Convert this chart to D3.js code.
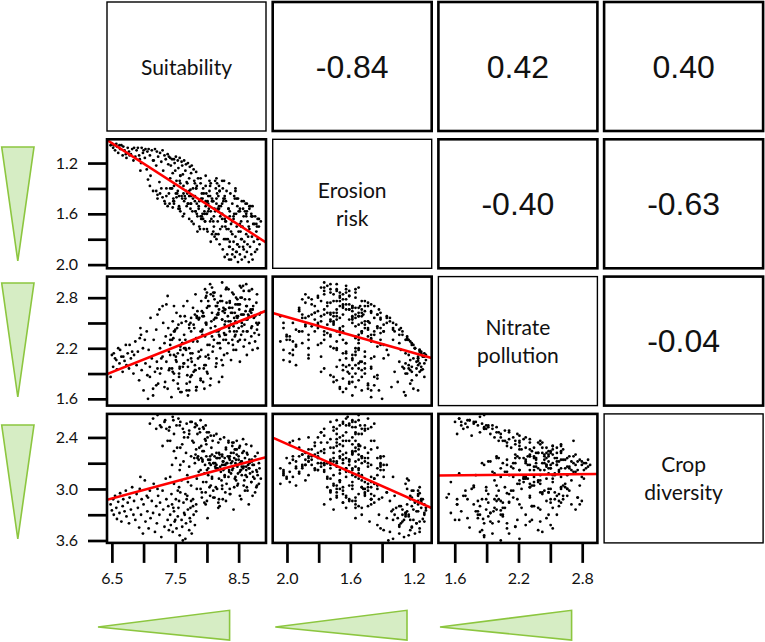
<!DOCTYPE html>
<html>
<head>
<meta charset="utf-8">
<script src="https://cdn.jsdelivr.net/npm/d3@7"></script>
<style>
  html, body { margin: 0; padding: 0; background: #fff; }
  svg { display: block; }
</style>
</head>
<body>
<script>
// each cell: [suitability, erosion risk, nitrate pollution, crop diversity]
const diagonalLabels = [['Suitability'], ['Erosion', 'risk'], ['Nitrate', 'pollution'], ['Crop', 'diversity']];
// upper panels, row by row: (1,2) (1,3) (1,4) (2,3) (2,4) (3,4)
const correlations = [-0.84, 0.42, 0.40, -0.40, -0.63, -0.04];

const ticks = [[6.5, 7, 7.5, 8, 8.5], [1.2, 1.4, 1.6, 1.8, 2.0], [1.6, 1.9, 2.2, 2.5, 2.8], [2.4, 2.7, 3.0, 3.3, 3.6]];
const tickLabels = [[6.5, 7.5, 8.5], [1.2, 1.6, 2.0], [1.6, 2.2, 2.8], [2.4, 3.0, 3.6]];

const lowSuitabilityCells = [
  [6.48,1.06,1.86,3.18],[6.50,1.05,2.12,3.25],[6.52,1.08,1.98,3.12],[6.53,1.06,2.14,3.30],[6.55,1.10,2.08,3.08],
  [6.57,1.05,2.06,3.22],[6.58,1.07,1.95,3.35],[6.60,1.12,2.20,3.15],[6.62,1.06,2.02,3.28],[6.63,1.09,2.18,3.05],
  [6.65,1.06,2.10,3.38],[6.67,1.14,1.92,3.20],[6.68,1.07,2.10,3.12],[6.70,1.10,2.05,3.26],[6.72,1.13,2.24,3.02],
  [6.73,1.16,2.00,3.32],[6.75,1.08,2.14,3.16],[6.77,1.11,1.96,3.40],[6.78,1.14,2.24,3.10],[6.80,1.13,2.08,3.24],
  [6.82,1.09,2.16,2.98],[6.84,1.18,1.90,3.30],[6.85,1.08,2.12,3.14],[6.87,1.15,2.28,3.36],[6.89,1.10,2.00,3.06],
  [6.91,1.08,2.16,3.22],[6.93,1.14,1.82,3.45],[6.94,1.17,2.32,3.00],[6.96,1.20,2.36,3.30],[6.97,1.08,1.94,3.12],
  [6.99,1.12,2.20,3.52],[7.00,1.10,1.70,3.18],[7.02,1.16,2.30,2.90],[7.03,1.09,2.02,3.38],[7.05,1.25,2.40,3.08],
  [7.06,1.11,1.88,3.26],[7.08,1.09,2.18,3.46],[7.10,1.14,1.98,3.02],[7.11,1.30,2.56,3.34],[7.13,1.10,2.08,3.14],
  [7.15,1.18,1.64,3.28],[7.16,1.18,2.30,2.94],[7.18,1.09,1.92,3.50],[7.20,1.22,2.42,3.20],[7.21,1.11,2.04,3.40],
  [7.23,1.15,1.78,3.08],[7.25,1.35,2.66,3.30],[7.26,1.12,2.20,3.16],[7.28,1.19,1.96,3.56],[7.30,1.10,2.10,3.02],
  [7.31,1.26,2.50,3.24],[7.33,1.14,2.26,3.44],[7.35,1.17,2.34,2.88],[7.36,1.40,2.72,3.12],[7.38,1.13,1.72,3.36],
  [7.39,1.21,2.44,3.20],[7.40,1.15,1.94,3.48],[6.95,1.26,2.44,2.86],[7.07,1.33,1.60,3.10],[7.22,1.45,2.60,3.00],
  [7.42,1.16,2.12,3.30],[7.43,1.22,2.36,3.42],[7.45,1.17,2.30,3.18],[7.46,1.28,2.52,3.50],[7.48,1.17,1.90,3.26],
  [7.49,1.20,2.40,3.38],[7.51,1.15,2.06,3.12],[7.52,1.34,2.62,3.46],[7.54,1.18,2.14,3.32],[7.55,1.24,2.48,3.22],
  [7.57,1.16,1.96,3.54],[7.58,1.30,2.58,3.04],[7.60,1.19,1.68,3.36],[7.61,1.22,2.26,3.44],[7.63,1.38,2.70,3.16],
  [7.64,1.18,2.02,3.28],[7.66,1.26,2.30,3.58],[7.67,1.21,2.18,3.40],[7.69,1.44,2.76,3.08],[7.70,1.20,1.98,3.24],
  [7.72,1.32,2.48,3.48],[7.73,1.23,1.80,3.34],[7.75,1.28,2.56,3.14],[7.76,1.22,2.04,3.52],[7.78,1.48,2.68,3.20],
  [7.79,1.25,1.92,3.30],[7.81,1.36,2.60,3.42],[7.83,1.27,1.74,3.26],[7.84,1.52,2.58,3.00],[7.44,1.40,1.62,3.06],
  [7.50,1.26,2.42,3.36],[7.56,1.46,1.86,2.98],[7.62,1.29,2.12,3.60],[7.68,1.35,1.70,3.12],[7.74,1.41,2.50,3.38]
];

const lowNitrateLowCropCells = [
  [7.10,1.38,1.86,2.24],[7.15,1.42,1.72,2.18],[7.22,1.48,1.96,2.14],[7.28,1.40,2.08,2.28],[7.34,1.52,1.80,2.20],
  [7.40,1.44,2.16,2.32],[7.46,1.55,1.92,2.16],[7.52,1.47,2.04,2.26],[7.58,1.58,1.68,2.22],[7.64,1.50,2.20,2.34],
  [7.30,1.47,2.70,2.50],[7.38,1.54,2.82,2.44],[7.48,1.52,2.70,2.56],[7.74,1.52,1.86,2.22],[7.82,1.58,1.94,2.24],
  [7.90,1.62,1.82,2.20],[7.98,1.54,2.00,2.26],[7.20,1.42,1.76,2.30],[7.26,1.44,1.90,2.26],[7.33,1.50,1.74,2.22],
  [7.41,1.52,1.96,2.28],[7.47,1.48,1.82,2.20],[7.55,1.56,1.72,2.18],[7.62,1.62,1.98,2.30],[7.68,1.54,1.78,2.24],
  [7.76,1.66,1.88,2.22],[7.84,1.60,1.74,2.26],[7.88,1.70,1.96,2.30],[7.94,1.64,1.80,2.28],[8.00,1.72,1.92,2.34],
  [8.06,1.58,1.84,2.38],[7.72,1.46,1.70,2.36]
];

const lowCropCells = [
  [7.36,1.46,2.04,2.30],[7.42,1.40,2.30,2.44],[7.48,1.50,2.12,2.36],[7.53,1.44,2.44,2.52],[7.57,1.56,1.98,2.26],
  [7.61,1.48,2.26,2.48],[7.64,1.60,2.36,2.40],[7.67,1.42,2.52,2.58],[7.70,1.52,2.06,2.40],[7.72,1.64,2.20,2.32],
  [7.75,1.46,2.40,2.62],[7.77,1.58,2.14,2.44],[7.79,1.68,2.48,2.46],[7.81,1.50,2.00,2.28],[7.83,1.40,2.32,2.54],
  [7.85,1.62,2.28,2.36],[7.87,1.54,2.54,2.66],[7.89,1.72,2.10,2.34],[7.91,1.48,2.18,2.50],[7.93,1.60,2.42,2.56],
  [7.95,1.44,1.96,2.30],[7.97,1.66,2.34,2.42],[7.99,1.52,2.50,2.48],[8.01,1.74,2.24,2.40],[8.03,1.56,2.08,2.34],
  [8.05,1.46,2.38,2.62],[8.07,1.64,2.52,2.52],[8.09,1.50,2.16,2.44],[8.11,1.70,2.30,2.38],[8.13,1.58,2.46,2.70],
  [8.15,1.48,2.02,2.36],[8.18,1.76,2.40,2.46],[8.21,1.62,2.20,2.42],[8.24,1.52,2.54,2.60],[8.27,1.80,2.12,2.40],
  [8.30,1.66,2.36,2.52],[8.34,1.56,2.26,2.44],[8.38,1.74,2.48,2.58],[8.42,1.62,2.18,2.46],[8.47,1.70,2.40,2.54],
  [8.52,1.58,2.30,2.50],[7.58,1.36,2.22,2.52],[7.80,1.34,2.44,2.64],[7.98,1.38,2.10,2.44],[8.20,1.42,2.34,2.64]
];

const highNitrateCells = [
  [7.82,1.58,2.84,2.60],[8.44,1.48,2.62,2.54],[8.05,1.66,2.96,2.66],[8.63,1.52,2.70,2.58],[7.95,1.72,2.58,2.56],
  [8.28,1.46,2.66,2.64],[8.71,1.62,2.90,2.68],[8.12,1.78,2.78,2.62],[7.88,1.50,2.56,2.52],[8.52,1.68,2.94,2.70],
  [8.19,1.56,2.66,2.58],[8.36,1.82,2.74,2.66],[7.99,1.60,2.82,2.62],[8.58,1.50,2.60,2.56],[8.24,1.70,2.98,2.72],
  [8.67,1.54,2.88,2.66],[8.08,1.76,2.62,2.60],[7.91,1.64,2.76,2.64],[8.47,1.48,2.58,2.60],[8.31,1.72,2.92,2.70],
  [8.02,1.58,2.70,2.66],[8.55,1.80,2.80,2.68],[8.15,1.52,2.56,2.58],[8.40,1.66,2.86,2.68],[7.85,1.74,2.64,2.64],
  [8.62,1.62,2.96,2.74],[8.26,1.50,2.68,2.68],[8.10,1.74,2.82,2.70],[8.50,1.58,2.72,2.66],[8.33,1.80,2.58,2.62],
  [7.97,1.66,2.90,2.72],[8.69,1.54,2.66,2.68],[8.21,1.72,2.76,2.74],[8.43,1.60,2.56,2.64],[8.06,1.82,2.84,2.72],
  [8.38,1.68,2.62,2.70],[8.57,1.56,2.94,2.76],[8.14,1.76,2.70,2.76],[7.93,1.64,2.58,2.68],[8.48,1.84,2.78,2.74],
  [8.29,1.70,2.66,2.72],[8.00,1.60,2.86,2.78],[8.65,1.78,2.60,2.72],[8.17,1.66,2.74,2.76],[8.35,1.86,2.68,2.80],
  [8.53,1.74,2.80,2.78]
];

const highErosionCells = [
  [8.30,1.80,2.30,2.54],[8.32,1.92,2.14,2.70],[8.34,1.72,2.52,2.46],[8.36,1.86,2.40,2.62],[8.38,1.96,2.06,2.82],
  [8.40,1.76,2.62,2.50],[8.41,1.88,2.24,2.76],[8.42,1.82,2.46,2.58],[8.44,1.94,2.34,2.88],[8.45,1.78,2.72,2.54],
  [8.46,1.90,2.18,2.66],[8.48,1.84,2.56,2.72],[8.49,1.98,2.28,2.94],[8.50,1.74,2.44,2.62],[8.51,1.86,2.66,2.52],
  [8.52,1.92,2.04,2.80],[8.54,1.80,2.36,2.68],[8.55,1.96,2.50,2.84],[8.56,1.70,2.60,2.58],[8.58,1.88,2.22,2.74],
  [8.59,1.82,2.48,2.90],[8.60,1.94,2.30,2.64],[8.62,1.76,2.54,2.78],[8.63,1.90,2.12,2.86],[8.64,1.84,2.40,2.60],
  [8.66,1.98,2.58,2.76],[8.67,1.72,2.26,2.70],[8.68,1.86,2.64,2.82],[8.70,1.92,2.34,2.92],[8.71,1.78,2.46,2.66],
  [8.72,1.96,2.18,2.80],[8.74,1.82,2.56,2.72],[8.75,1.68,2.38,2.88],[8.76,1.90,2.28,2.62],[8.78,1.74,2.50,2.78],
  [8.79,1.88,2.42,2.96],[8.80,1.80,2.20,2.84],[8.82,1.70,2.36,2.70],[8.83,1.84,2.60,2.76],[8.25,1.88,2.00,2.68],
  [8.20,1.84,2.26,2.60],[8.15,1.80,2.08,2.64],[8.35,1.96,2.44,2.78],[8.28,1.94,2.36,2.86],[8.62,1.60,2.70,2.48],
  [8.70,1.62,2.62,2.50],[8.80,1.64,2.48,2.58],[8.47,1.90,2.50,2.44],[8.57,1.86,2.40,2.42],[8.40,1.92,2.30,2.46]
];

const middleCells = [
  [7.42,1.32,2.24,2.86],[7.45,1.40,1.96,2.72],[7.48,1.38,2.40,2.94],[7.51,1.44,2.10,2.64],[7.54,1.42,1.78,3.02],
  [7.57,1.34,2.30,2.78],[7.60,1.46,2.50,2.90],[7.63,1.44,2.02,2.68],[7.66,1.48,2.20,3.06],[7.69,1.36,1.88,2.84],
  [7.72,1.42,2.44,2.74],[7.75,1.52,2.08,2.96],[7.78,1.40,2.28,3.12],[7.81,1.46,1.94,2.70],[7.84,1.38,2.56,2.88],
  [7.87,1.56,2.16,2.80],[7.90,1.36,1.84,3.00],[7.93,1.48,2.36,2.66],[7.96,1.58,2.00,3.16],[7.99,1.44,2.48,2.92],
  [8.02,1.52,2.12,2.76],[8.05,1.38,1.76,3.08],[8.08,1.50,2.34,2.86],[8.11,1.62,2.54,2.70],[8.14,1.40,1.98,2.98],
  [8.17,1.56,2.26,2.64],[8.20,1.42,2.42,3.20],[8.23,1.60,2.06,2.90],[8.26,1.48,2.30,2.78],[8.29,1.66,2.52,3.04],
  [7.47,1.50,2.32,3.22],[7.56,1.54,1.90,3.14],[7.65,1.46,2.58,3.30],[7.74,1.56,2.14,3.22],[7.83,1.40,1.70,3.18],
  [7.92,1.62,2.40,3.10],[8.01,1.50,1.90,3.34],[8.10,1.66,2.22,3.02],[8.19,1.54,1.80,3.12],[8.28,1.64,2.62,2.84],
  [7.58,1.30,2.18,2.72],[7.86,1.32,2.08,2.62],[8.04,1.34,2.24,2.70],[8.16,1.36,2.60,2.76],[7.70,1.52,1.64,2.92],
  [7.96,1.60,1.72,2.82],[8.24,1.64,1.86,2.96],[8.15,1.32,2.40,2.72],[8.24,1.34,2.54,2.62],[8.35,1.36,2.46,2.64],
  [8.45,1.42,2.52,2.70]
];

const upperMiddleCells = [
  [7.90,1.32,2.40,2.78],[7.94,1.40,2.62,2.92],[7.98,1.30,2.50,3.04],[8.02,1.46,2.76,2.84],[8.06,1.36,2.44,2.96],
  [8.10,1.50,2.86,3.10],[8.13,1.34,2.56,2.74],[8.16,1.44,2.70,3.00],[8.19,1.38,2.36,2.88],[8.22,1.54,2.82,2.80],
  [8.25,1.40,2.64,3.12],[8.28,1.48,2.48,2.76],[8.31,1.42,2.74,2.94],[8.34,1.56,2.90,2.86],[8.37,1.44,2.52,3.06],
  [8.40,1.52,2.68,2.78],[8.43,1.46,2.40,2.98],[8.46,1.60,2.80,2.90],[8.49,1.48,2.58,2.82],[8.52,1.56,2.72,3.08],
  [8.55,1.50,2.46,2.74],[8.58,1.62,2.88,2.96],[8.61,1.52,2.64,2.84],[8.64,1.66,2.54,3.02],[8.67,1.56,2.78,2.76],
  [8.70,1.60,2.44,2.92],[8.73,1.68,2.70,2.86],[8.76,1.62,2.58,3.04],[8.79,1.70,2.84,2.80],[8.82,1.64,2.50,2.94],
  [8.00,1.52,2.68,3.14],[8.08,1.48,2.92,2.88],[8.18,1.58,2.60,3.16],[8.27,1.34,2.38,2.72],[8.36,1.62,2.76,3.00],
  [8.45,1.40,2.36,2.86],[8.54,1.70,2.92,2.78],[8.63,1.58,2.40,2.98],[8.72,1.54,2.66,2.72],[8.85,1.66,2.62,2.88],
  [7.92,1.44,2.64,3.04],[7.98,1.50,2.80,3.18],[8.04,1.42,2.70,2.98],[8.12,1.56,2.86,3.10],[8.18,1.46,2.62,3.22],
  [8.24,1.60,2.76,3.00],[8.30,1.50,2.90,3.14],[8.36,1.58,2.68,3.06],[8.42,1.64,2.84,3.24],[8.48,1.54,2.72,2.96],
  [8.54,1.66,2.60,3.12],[8.60,1.58,2.78,3.02],[8.66,1.70,2.88,3.18],[8.72,1.62,2.66,3.08],[8.78,1.68,2.74,2.98]
];

const cells = [].concat(lowSuitabilityCells, lowNitrateLowCropCells, lowCropCells, highNitrateCells,
  highErosionCells, middleCells, upperMiddleCells);

const width = 765;
const height = 642;
const panelW = 159;
const panelH = 129;
const colX = i => 107 + i * 165.7;
const rowY = j => 2 + j * 137.3;

// value range of each panel side; erosion and crop diversity run "backwards"
const domains = [[6.423, 8.932], [1.013, 2.029], [1.52, 3.05], [2.126, 3.628]];
const reversed = [false, true, false, true];
// bottom axes of columns 2 and 3 sit a little off the panel range in the original
const xAxisDomains = [[6.423, 8.932], [2.09, 1.087], [1.446, 2.943]];

const green = { fill: '#d6edc4', stroke: '#8cc63f' };
const leftWedges = [[147, 261], [283, 397], [425, 539]];
const bottomWedges = [[98, 229.6], [275.3, 407], [440, 571.6]];

const format2 = d3.formatLocale({ decimal: '.', thousands: ',', grouping: [3], currency: ['', ''], minus: '-' }).format('.2f');
const format1 = d3.format('.1f');

function main() {
  const svg = d3.select('body').append('svg').attr('width', width).attr('height', height);

  svg.append('defs').append('clipPath').attr('id', 'panel-clip')
    .append('rect').attr('width', panelW).attr('height', panelH);

  const xScales = domains.map((d, k) => d3.scaleLinear().domain(reversed[k] ? [d[1], d[0]] : d).range([0, panelW]));
  const yScales = domains.map((d, k) => d3.scaleLinear().domain(d).range(reversed[k] ? [0, panelH] : [panelH, 0]));
  const xLabelScales = xAxisDomains.map(d => d3.scaleLinear().domain(d).range([0, panelW]));

  let corrIndex = 0;
  for (let r = 0; r < 4; r++) {
    for (let c = 0; c < 4; c++) {
      const g = svg.append('g').attr('transform', `translate(${colX(c)},${rowY(r)})`);
      g.append('rect').attr('width', panelW).attr('height', panelH).attr('fill', '#fff');

      if (r > c) {
        drawScatter(g, xScales[c], yScales[r], c, r);
      } else if (r === c) {
        drawLabel(g, diagonalLabels[r]);
      } else {
        g.append('text')
          .attr('x', panelW / 2)
          .attr('y', panelH / 2 + 11)
          .attr('text-anchor', 'middle')
          .attr('font-family', '"Liberation Sans", Arial, sans-serif')
          .attr('font-size', 32)
          .attr('fill', '#111')
          .text(format2(correlations[corrIndex++]));
      }

      g.append('rect')
        .attr('width', panelW)
        .attr('height', panelH)
        .attr('fill', 'none')
        .attr('stroke', '#000')
        .attr('stroke-width', r === c ? 1.4 : 2.6);
    }
  }

  // left axes, rows 2-4
  for (let r = 1; r < 4; r++) {
    const axis = d3.axisLeft(yScales[r]).tickValues(ticks[r]).tickSize(19).tickPadding(10)
      .tickFormat(v => tickLabels[r].includes(v) ? format1(v) : '');
    styleAxis(svg.append('g').attr('transform', `translate(${colX(0)},${rowY(r)})`).call(axis));
  }

  // bottom axes, columns 1-3
  for (let c = 0; c < 3; c++) {
    const axis = d3.axisBottom(xLabelScales[c]).tickValues(ticks[c]).tickSize(20).tickPadding(10)
      .tickFormat(v => tickLabels[c].includes(v) ? format1(v) : '');
    styleAxis(svg.append('g').attr('transform', `translate(${colX(c)},${rowY(3) + panelH})`).call(axis));
  }

  drawWedges(svg);
}

function drawScatter(g, x, y, xi, yi) {
  g.selectAll('circle')
    .data(cells)
    .enter()
    .append('circle')
    .attr('cx', d => x(d[xi]))
    .attr('cy', d => y(d[yi]))
    .attr('r', 1.4)
    .attr('fill', '#000');

  // least-squares line of y on x
  const xs = cells.map(d => d[xi]);
  const ys = cells.map(d => d[yi]);
  const mx = d3.mean(xs);
  const my = d3.mean(ys);
  const b = d3.sum(xs, (v, i) => (v - mx) * (ys[i] - my)) / d3.sum(xs, v => (v - mx) ** 2);
  const a = my - b * mx;
  const ends = domains[xi];

  g.append('line')
    .attr('clip-path', 'url(#panel-clip)')
    .attr('x1', x(ends[0]))
    .attr('y1', y(a + b * ends[0]))
    .attr('x2', x(ends[1]))
    .attr('y2', y(a + b * ends[1]))
    .attr('stroke', '#ff0000')
    .attr('stroke-width', 2.6);
}

function drawLabel(g, lines) {
  const lineGap = 28;
  const top = panelH / 2 + 8 - (lines.length - 1) * lineGap / 2;
  const text = g.append('text')
    .attr('text-anchor', 'middle')
    .attr('font-family', 'Lato, "Open Sans", sans-serif')
    .attr('font-size', 21)
    .attr('fill', '#111');
  lines.forEach((line, i) => {
    text.append('tspan').attr('x', panelW / 2).attr('y', top + i * lineGap).text(line);
  });
}

function styleAxis(axisG) {
  axisG.select('.domain').remove();
  axisG.selectAll('.tick line').attr('stroke', '#000').attr('stroke-width', 2.7);
  axisG.selectAll('.tick text')
    .attr('font-family', 'Lato, "Open Sans", sans-serif')
    .attr('font-size', 16)
    .attr('fill', '#111');
}

function drawWedges(svg) {
  svg.selectAll('path.left-wedge')
    .data(leftWedges)
    .enter()
    .append('path')
    .attr('class', 'left-wedge')
    .attr('d', d => `M1.7,${d[0]}L34,${d[0]}L17.8,${d[1]}Z`)
    .attr('fill', green.fill)
    .attr('stroke', green.stroke)
    .attr('stroke-width', 1.6);

  svg.selectAll('path.bottom-wedge')
    .data(bottomWedges)
    .enter()
    .append('path')
    .attr('class', 'bottom-wedge')
    .attr('d', d => `M${d[0]},627L${d[1]},610.3L${d[1]},640Z`)
    .attr('fill', green.fill)
    .attr('stroke', green.stroke)
    .attr('stroke-width', 1.6);
}

main();
</script>
</body>
</html>
